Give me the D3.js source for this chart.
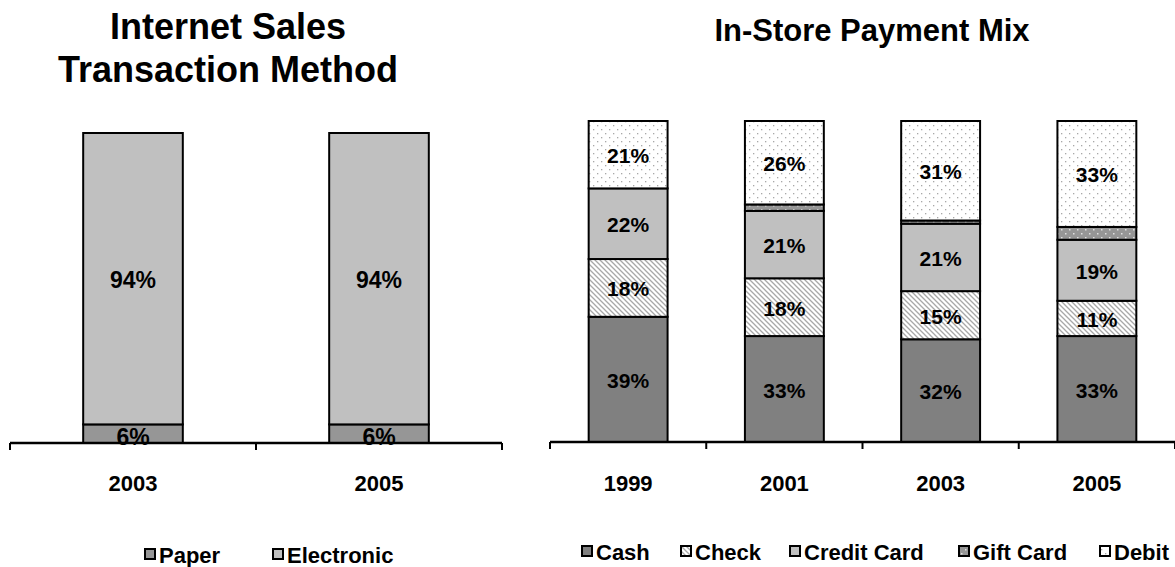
<!DOCTYPE html>
<html>
<head>
<meta charset="utf-8">
<script src="https://cdn.jsdelivr.net/npm/d3@7"></script>
<style>
  body { margin: 0; background: #fff; }
  text { font-family: Arial, "Liberation Sans", sans-serif; font-weight: bold; fill: #000; }
</style>
</head>
<body>
<div id="chart"></div>
<script>
"use strict";

// left chart data
var netYears = ["2003", "2005"];
var netSeries = ["Paper", "Electronic"];
var paperVals = [6, 6];
var electronicVals = [94, 94];

// right chart data
var storeYears = ["1999", "2001", "2003", "2005"];
var storeSeries = ["Cash", "Check", "Credit Card", "Gift Card", "Debit"];
var cashVals = [39, 33, 32, 33];
var checkVals = [18, 18, 15, 11];
var creditVals = [22, 21, 21, 19];
var giftVals = [0, 2, 1, 4];
var debitVals = [21, 26, 31, 33];

var width = 1175,
  height = 567;

var svg = d3
  .select("#chart")
  .append("svg")
  .attr("width", width)
  .attr("height", height);

// patterns
var defs = svg.append("defs");

var hatch = defs.append("pattern")
  .attr("id", "hatch")
  .attr("patternUnits", "userSpaceOnUse")
  .attr("width", 5)
  .attr("height", 5);
hatch.append("rect").attr("width", 5).attr("height", 5).attr("fill", "#fff");
hatch.append("path")
  .attr("d", "M-1,-1 L6,6 M-1,4 L1,6 M4,-1 L6,1")
  .attr("stroke", "#a8a8a8")
  .attr("stroke-width", 1.3);

var dots = defs.append("pattern")
  .attr("id", "dots")
  .attr("patternUnits", "userSpaceOnUse")
  .attr("width", 8)
  .attr("height", 8);
dots.append("rect").attr("width", 8).attr("height", 8).attr("fill", "#fff");
dots.append("rect").attr("x", 1).attr("y", 1).attr("width", 1.3).attr("height", 1.3).attr("fill", "#a8a8a8");
dots.append("rect").attr("x", 5).attr("y", 5).attr("width", 1.3).attr("height", 1.3).attr("fill", "#a8a8a8");

var gdots = defs.append("pattern")
  .attr("id", "gdots")
  .attr("patternUnits", "userSpaceOnUse")
  .attr("width", 8)
  .attr("height", 8);
gdots.append("rect").attr("width", 8).attr("height", 8).attr("fill", "#969696");
gdots.append("rect").attr("x", 1).attr("y", 1).attr("width", 1.5).attr("height", 1.5).attr("fill", "#e0e0e0");
gdots.append("rect").attr("x", 5).attr("y", 5).attr("width", 1.5).attr("height", 1.5).attr("fill", "#e0e0e0");

function drawStack(cfg) {
  var x = d3.scaleBand().domain(cfg.years).range([cfg.x0, cfg.x1]).paddingInner(0).paddingOuter(0);
  var y = d3.scaleLinear().domain([0, 100]).range([cfg.base, cfg.top]);
  var barW = x.bandwidth() * cfg.barFrac;

  var rows = cfg.years.map(function(yr, i) {
    var r = { year: yr };
    cfg.series.forEach(function(s, j) { r[s] = cfg.values[j][i]; });
    return r;
  });
  var stacked = d3.stack().keys(cfg.series)(rows);

  var g = svg.append("g");

  stacked.forEach(function(layer, j) {
    g.selectAll(null)
      .data(layer)
      .enter()
      .append("rect")
      .attr("x", function(d) { return x(d.data.year) + (x.bandwidth() - barW) / 2; })
      .attr("y", function(d) { return y(d[1]); })
      .attr("width", barW)
      .attr("height", function(d) { return y(d[0]) - y(d[1]); })
      .attr("fill", cfg.fills[j])
      .attr("stroke", "#000")
      .attr("stroke-width", 2)
      .attr("display", function(d) { return d[1] - d[0] > 0 ? null : "none"; });

    if (cfg.labelled[j]) {
      g.selectAll(null)
        .data(layer)
        .enter()
        .append("text")
        .attr("x", function(d) { return x(d.data.year) + x.bandwidth() / 2; })
        .attr("y", function(d) {
          var mid = (y(d[0]) + y(d[1])) / 2;
          return d[1] - d[0] < 10 ? mid + 3 : mid + 1;
        })
        .attr("text-anchor", "middle")
        .attr("dominant-baseline", "central")
        .style("font-size", cfg.valueSize + "px")
        .text(function(d) { return (d[1] - d[0]) + "%"; });
    }
  });

  // axis
  var axis = d3.axisBottom(x).tickSize(0);
  var ag = svg.append("g")
    .attr("transform", "translate(0," + cfg.base + ")")
    .call(axis);
  ag.select(".domain").attr("stroke", "#000").attr("stroke-width", 2.5)
    .attr("d", "M" + cfg.x0 + ",0H" + cfg.x1);
  ag.selectAll(".tick text")
    .attr("y", cfg.labelY - cfg.base)
    .attr("dy", 0)
    .style("font-size", cfg.catSize + "px")
    .style("font-family", "Arial, 'Liberation Sans', sans-serif")
    .attr("fill", "#000");
  // tick marks at category boundaries
  var bounds = cfg.years.map(function(yr) { return x(yr); }).concat([cfg.x1]);
  ag.selectAll(".bound")
    .data(bounds)
    .enter()
    .append("line")
    .attr("x1", function(d) { return d; })
    .attr("x2", function(d) { return d; })
    .attr("y1", 0)
    .attr("y2", 7)
    .attr("stroke", "#000")
    .attr("stroke-width", 2);

  // legend
  var lg = svg.append("g");
  cfg.series.forEach(function(s, j) {
    var lx = cfg.legendX[j];
    lg.append("rect")
      .attr("x", lx + 1)
      .attr("y", cfg.legendY - 14)
      .attr("width", 10)
      .attr("height", 10)
      .attr("fill", cfg.fills[j])
      .attr("stroke", "#000")
      .attr("stroke-width", 2);
    lg.append("text")
      .attr("x", lx + 15)
      .attr("y", cfg.legendY)
      .style("font-size", "22px")
      .text(s);
  });
}

// left chart
drawStack({
  years: netYears,
  series: netSeries,
  values: [paperVals, electronicVals],
  fills: ["#969696", "#c0c0c0"],
  labelled: [true, true],
  x0: 10, x1: 502,
  base: 443, top: 133,
  barFrac: 0.405,
  valueSize: 23,
  catSize: 22,
  labelY: 491,
  legendX: [144, 272],
  legendY: 563
});

// right chart
drawStack({
  years: storeYears,
  series: storeSeries,
  values: [cashVals, checkVals, creditVals, giftVals, debitVals],
  fills: ["#808080", "url(#hatch)", "#c0c0c0", "url(#gdots)", "url(#dots)"],
  labelled: [true, true, true, false, true],
  x0: 550, x1: 1175,
  base: 442, top: 121,
  barFrac: 0.505,
  valueSize: 21,
  catSize: 22,
  labelY: 491,
  legendX: [581, 680, 789, 958, 1099],
  legendY: 560
});

// titles
svg.append("text").attr("x", 228).attr("y", 39).attr("text-anchor", "middle").style("font-size", "36px").text("Internet Sales");
svg.append("text").attr("x", 228).attr("y", 82).attr("text-anchor", "middle").style("font-size", "36px").text("Transaction Method");
svg.append("text").attr("x", 872).attr("y", 41).attr("text-anchor", "middle").style("font-size", "31px").text("In-Store Payment Mix");
</script>
</body>
</html>
